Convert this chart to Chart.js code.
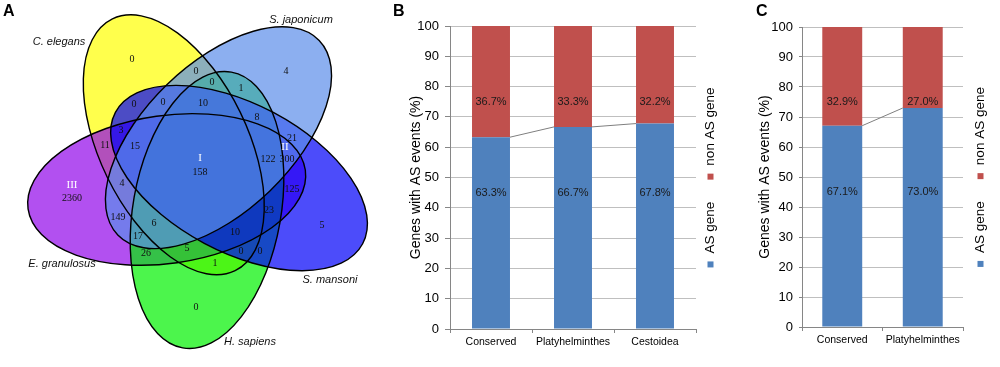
<!DOCTYPE html>
<html>
<head>
<meta charset="utf-8">
<script src="https://cdn.jsdelivr.net/npm/chart.js@4.4.1/dist/chart.umd.min.js"></script>
<style>
  body { margin: 0; background: #fff; }
  #wrap { position: relative; width: 1000px; height: 367px; }
  canvas { position: absolute; top: 0; }
</style>
</head>
<body>
<div id="wrap">
  <canvas id="venn" width="380" height="367" style="left:0px"></canvas>
  <canvas id="chartB" width="330" height="367" style="left:390px"></canvas>
  <canvas id="chartC" width="270" height="367" style="left:730px"></canvas>
</div>
<script>
// ---- data ----
const vennSets = ['C. elegans', 'S. japonicum', 'S. mansoni', 'H. sapiens', 'E. granulosus'];
const vennCounts = [0, 4, 5, 0, 2360, 0, 0, 1, 0, 0, 10, 8, 3, 11, 15, 158, 122, 21, 300, 125,
                    4, 149, 6, 23, 10, 17, 26, 5, 0, 0, 1];
const vennGroups = ['I', 'II', 'III'];

const catsB = ['Conserved', 'Platyhelminthes', 'Cestoidea'];
const asGeneB = [63.3, 66.7, 67.8];
const nonAsGeneB = [36.7, 33.3, 32.2];

const catsC = ['Conserved', 'Platyhelminthes'];
const asGeneC = [67.1, 73.0];
const nonAsGeneC = [32.9, 27.0];

const seriesNames = ['AS gene', 'non AS gene'];

// ---- venn layout (panel units) ----
const countSpots = [[132, 59], [286, 71], [322, 225], [196, 307], [72, 198], [196, 71], [212, 82], [241, 88],
                    [134, 104], [163, 102], [203, 103], [257, 117], [121, 130], [105, 145], [135, 146],
                    [200, 172], [268, 159], [292, 138], [287, 159], [292, 189], [122, 183], [118, 217],
                    [154, 223], [269, 210], [235, 232], [138, 236], [146, 253], [187, 248], [241, 251],
                    [260, 251], [215, 263]];
const groupSpots = [[200, 158], [285, 147], [72, 185]];
const nameSpots = [[59, 42], [301, 20], [330, 280], [250, 342], [62, 264]];
const vennShape = {cx: 201, cy: 172, dist: 38.5, a: 140, b: 74, tilt: 19};
const vennAngle = {'H. sapiens': 81, 'E. granulosus': 153, 'C. elegans': 225, 'S. japonicum': 297, 'S. mansoni': 9};
const vennFill = {
  'C. elegans': 'rgba(255,255,0,0.7)',
  'E. granulosus': 'rgba(145,5,233,0.7)',
  'H. sapiens': 'rgba(0,241,0,0.7)',
  'S. mansoni': 'rgba(0,0,248,0.7)',
  'S. japonicum': 'rgba(91,141,233,0.7)'
};
const drawOrder = ['C. elegans', 'E. granulosus', 'H. sapiens', 'S. mansoni', 'S. japonicum'];

const sans = '"Liberation Sans", Arial, sans-serif';
const serif = '"Liberation Serif", "Times New Roman", serif';
const blue = '#4f81bd';
const red = '#c0504d';

// ---- plugins ----
const panelLetter = {
  id: 'panelLetter',
  afterDraw(chart, args, opts) {
    const ctx = chart.ctx;
    ctx.save();
    ctx.font = 'bold 16px ' + sans;
    ctx.fillStyle = '#000';
    ctx.textBaseline = 'top';
    ctx.fillText(opts.text, opts.x, opts.y);
    ctx.restore();
  }
};

const ellipses = {
  id: 'ellipses',
  beforeDatasetsDraw(chart) {
    const {ctx, scales: {x, y}} = chart;
    const kx = x.getPixelForValue(1) - x.getPixelForValue(0);
    const ky = Math.abs(y.getPixelForValue(1) - y.getPixelForValue(0));
    const s = vennShape;
    const shapes = drawOrder.map(name => {
      const phi = vennAngle[name] * Math.PI / 180;
      return {
        px: x.getPixelForValue(s.cx + s.dist * Math.cos(phi)),
        py: y.getPixelForValue(s.cy + s.dist * Math.sin(phi)),
        rot: phi + s.tilt * Math.PI / 180,
        fill: vennFill[name]
      };
    });
    ctx.save();
    shapes.forEach(e => {
      ctx.beginPath();
      ctx.ellipse(e.px, e.py, s.a * kx, s.b * ky, e.rot, 0, Math.PI * 2);
      ctx.fillStyle = e.fill;
      ctx.fill();
    });
    ctx.strokeStyle = '#000';
    ctx.lineWidth = 1.4;
    shapes.forEach(e => {
      ctx.beginPath();
      ctx.ellipse(e.px, e.py, s.a * kx, s.b * ky, e.rot, 0, Math.PI * 2);
      ctx.stroke();
    });
    ctx.restore();
  }
};

const pointText = {
  id: 'pointText',
  afterDatasetsDraw(chart) {
    const ctx = chart.ctx;
    ctx.save();
    ctx.textAlign = 'center';
    ctx.textBaseline = 'middle';
    chart.data.datasets.forEach((ds, i) => {
      ctx.font = ds.textFont;
      ctx.fillStyle = ds.textColor;
      chart.getDatasetMeta(i).data.forEach((pt, j) => ctx.fillText(String(ds.texts[j]), pt.x, pt.y));
    });
    ctx.restore();
  }
};

const barLabels = {
  id: 'barLabels',
  afterDatasetsDraw(chart, args, opts) {
    const {ctx, scales: {y}} = chart;
    ctx.save();
    ctx.font = '11px ' + sans;
    ctx.fillStyle = '#1a1a1a';
    ctx.textAlign = 'center';
    ctx.textBaseline = 'middle';
    chart.data.datasets.forEach((ds, i) => {
      const level = y.getPixelForValue(opts.levels[i]);
      chart.getDatasetMeta(i).data.forEach((bar, j) => ctx.fillText(ds.data[j].toFixed(1) + '%', bar.x, level));
    });
    ctx.restore();
  }
};

const seriesLines = {
  id: 'seriesLines',
  afterDatasetsDraw(chart) {
    const ctx = chart.ctx;
    const bars = chart.getDatasetMeta(0).data;
    ctx.save();
    ctx.strokeStyle = '#7f7f7f';
    ctx.lineWidth = 1;
    for (let j = 0; j < bars.length - 1; j++) {
      const a = bars[j], b = bars[j + 1];
      ctx.beginPath();
      ctx.moveTo(a.x + a.width / 2, a.y);
      ctx.lineTo(b.x - b.width / 2, b.y);
      ctx.stroke();
    }
    ctx.restore();
  }
};

const sideLegend = {
  id: 'sideLegend',
  afterDraw(chart, args, opts) {
    const {ctx, chartArea} = chart;
    ctx.save();
    ctx.font = '13.5px ' + sans;
    const box = 6, gap = 8, spacing = 22;
    const items = chart.data.datasets.map(ds => ({text: ds.label, color: ds.backgroundColor, w: ctx.measureText(ds.label).width}));
    const total = items.reduce((sum, it) => sum + box + gap + it.w, 0) + spacing * (items.length - 1);
    let pos = (chartArea.top + chartArea.bottom) / 2 + total / 2;
    items.forEach(it => {
      ctx.fillStyle = it.color;
      ctx.fillRect(opts.x - box / 2, pos - box, box, box);
      pos -= box + gap;
      ctx.save();
      ctx.translate(opts.x, pos);
      ctx.rotate(-Math.PI / 2);
      ctx.fillStyle = '#000';
      ctx.textAlign = 'left';
      ctx.textBaseline = 'middle';
      ctx.fillText(it.text, 0, 0);
      ctx.restore();
      pos -= it.w + spacing;
    });
    ctx.restore();
  }
};

// ---- panel A: venn ----
new Chart(document.getElementById('venn'), {
  type: 'scatter',
  data: {
    datasets: [
      {data: countSpots.map(p => ({x: p[0], y: p[1]})), texts: vennCounts, textFont: '10px ' + serif, textColor: '#111', pointRadius: 0},
      {data: groupSpots.map(p => ({x: p[0], y: p[1]})), texts: vennGroups, textFont: '11px ' + serif, textColor: '#fff', pointRadius: 0},
      {data: nameSpots.map(p => ({x: p[0], y: p[1]})), texts: vennSets, textFont: 'italic 11px ' + sans, textColor: '#111', pointRadius: 0}
    ]
  },
  options: {
    responsive: false,
    animation: false,
    layout: {padding: 0},
    scales: {
      x: {type: 'linear', min: 0, max: 380, display: false},
      y: {type: 'linear', min: 0, max: 367, reverse: true, display: false}
    },
    plugins: {
      legend: {display: false},
      tooltip: {enabled: false},
      panelLetter: {text: 'A', x: 3, y: 4}
    }
  },
  plugins: [ellipses, pointText, panelLetter]
});

// ---- panels B and C ----
function barOptions(o) {
  return {
    responsive: false,
    animation: false,
    layout: {padding: {left: o.padLeft, right: o.padRight, top: o.padTop, bottom: 0}},
    scales: {
      x: {
        stacked: true,
        afterFit: s => { s.height = o.xHeight; },
        grid: {display: true, offset: true, drawOnChartArea: false, tickLength: 4, color: '#868686'},
        border: {color: '#868686'},
        ticks: {color: '#000', padding: 3, font: {family: sans, size: 10.5}}
      },
      y: {
        stacked: true,
        min: 0,
        max: 100,
        afterFit: s => { s.width = o.yWidth; },
        grid: {color: '#bfbfbf', tickLength: o.tickLen, tickColor: '#868686'},
        border: {color: '#868686'},
        ticks: {stepSize: 10, color: '#000', padding: 6, font: {family: sans, size: 13}},
        title: {display: true, text: 'Genes with AS events (%)', color: '#000', padding: {top: o.titlePad, bottom: 0}, font: {family: sans, size: 14}}
      }
    },
    plugins: {
      legend: {display: false},
      tooltip: {enabled: false},
      barLabels: {levels: [45, 75]},
      sideLegend: {x: o.legendX},
      panelLetter: {text: o.letter, x: o.letterX, y: 4}
    }
  };
}

new Chart(document.getElementById('chartB'), {
  type: 'bar',
  data: {
    labels: catsB,
    datasets: [
      {label: seriesNames[0], data: asGeneB, backgroundColor: blue, barPercentage: 0.463, categoryPercentage: 1},
      {label: seriesNames[1], data: nonAsGeneB, backgroundColor: red, barPercentage: 0.463, categoryPercentage: 1}
    ]
  },
  options: barOptions({padLeft: 10, padRight: 24, padTop: 26, xHeight: 38, yWidth: 50, tickLen: 5, titlePad: 8,
                       legendX: 320.5, letter: 'B', letterX: 3}),
  plugins: [seriesLines, barLabels, sideLegend, panelLetter]
});

new Chart(document.getElementById('chartC'), {
  type: 'bar',
  data: {
    labels: catsC,
    datasets: [
      {label: seriesNames[0], data: asGeneC, backgroundColor: blue, barPercentage: 0.496, categoryPercentage: 1},
      {label: seriesNames[1], data: nonAsGeneC, backgroundColor: red, barPercentage: 0.496, categoryPercentage: 1}
    ]
  },
  options: barOptions({padLeft: 20, padRight: 37, padTop: 27, xHeight: 40, yWidth: 52, tickLen: 3, titlePad: 7,
                       legendX: 250.5, letter: 'C', letterX: 26}),
  plugins: [seriesLines, barLabels, sideLegend, panelLetter]
});
</script>
</body>
</html>
